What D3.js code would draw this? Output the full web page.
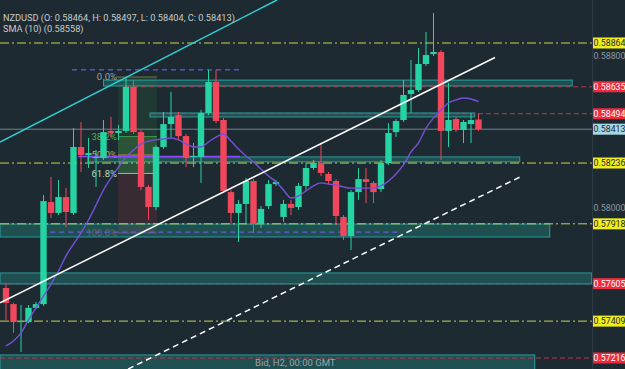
<!DOCTYPE html>
<meta charset="utf-8" />
<style>
  body { margin: 0; background: #1e2a32; overflow: hidden; }
  text { font-family: Roboto, "DejaVu Sans", sans-serif; }
</style>
<body>
<div id="chart"></div>
<script src="https://d3js.org/d3.v7.min.js"></script>
<script>
  // H2 candles, NZDUSD
  var opens = [0.57582,0.57498,0.57404,0.57404,0.57478,0.57498,0.58032,0.57975,0.58058,0.57975,
    0.58320,0.58278,0.58262,0.58262,0.58404,0.58393,0.58404,0.58634,0.58398,0.58111,
    0.58006,0.58320,0.58440,0.58487,0.58377,0.58268,0.58268,0.58498,0.58660,0.58461,
    0.58084,0.57975,0.58022,0.58142,0.57917,0.58011,0.58126,0.57954,0.58022,0.58006,
    0.58116,0.58210,0.58236,0.58179,0.58142,0.57954,0.57854,0.58084,0.58152,0.58132,
    0.58100,0.58236,0.58398,0.58461,0.58597,0.58618,0.58754,0.58806,0.58817,0.58404,
    0.58466,0.58409,0.58440,0.58464];
  var highs = [0.57608,0.57504,0.57493,0.57493,0.57509,0.58069,0.58163,0.58147,0.58105,0.58419,
    0.58451,0.58367,0.58304,0.58461,0.58477,0.58435,0.58686,0.58670,0.58409,0.58121,
    0.58330,0.58503,0.58608,0.58503,0.58388,0.58341,0.58513,0.58723,0.58723,0.58472,
    0.58095,0.58043,0.58158,0.58152,0.58011,0.58147,0.58147,0.58043,0.58043,0.58132,
    0.58236,0.58252,0.58341,0.58189,0.58152,0.57964,0.58095,0.58210,0.58210,0.58142,
    0.58252,0.58445,0.58466,0.58670,0.58775,0.58838,0.58922,0.59021,0.58827,0.58655,
    0.58477,0.58461,0.58498,0.58497];
  var lows = [0.57415,0.57347,0.57247,0.57399,0.57472,0.57488,0.57948,0.57964,0.57901,0.57964,
    0.58189,0.58210,0.58111,0.58252,0.58367,0.58356,0.58393,0.58388,0.58095,0.57938,
    0.57990,0.58309,0.58372,0.58356,0.58215,0.58215,0.58132,0.58487,0.58445,0.58079,
    0.57922,0.57823,0.57922,0.57870,0.57896,0.57996,0.58116,0.57928,0.57964,0.57990,
    0.58095,0.58200,0.58168,0.58126,0.57912,0.57833,0.57781,0.58043,0.58027,0.58027,
    0.58084,0.58226,0.58372,0.58451,0.58498,0.58608,0.58744,0.58796,0.58252,0.58320,
    0.58398,0.58341,0.58341,0.58404];
  var closes = [0.57504,0.57404,0.57409,0.57478,0.57498,0.58037,0.57975,0.58058,0.57980,0.58320,
    0.58278,0.58288,0.58268,0.58398,0.58393,0.58404,0.58634,0.58398,0.58111,0.58006,
    0.58320,0.58440,0.58477,0.58377,0.58262,0.58273,0.58498,0.58660,0.58456,0.58090,
    0.57975,0.58022,0.58142,0.57917,0.57996,0.58126,0.58137,0.58022,0.58001,0.58116,
    0.58210,0.58236,0.58184,0.58142,0.57959,0.57854,0.58084,0.58152,0.58137,0.58084,
    0.58236,0.58393,0.58456,0.58592,0.58618,0.58754,0.58801,0.58817,0.58404,0.58461,
    0.58409,0.58451,0.58461,0.58413];
  // SMA (10)
  var sma10 = [0.57279,0.57305,0.57347,0.57415,0.57478,0.57540,0.57603,0.57671,0.57750,0.57812,
    0.57870,0.57938,0.58016,0.58095,0.58158,0.58215,0.58268,0.58304,0.58336,0.58351,
    0.58357,0.58362,0.58367,0.58357,0.58336,0.58320,0.58320,0.58346,0.58372,0.58388,
    0.58351,0.58309,0.58273,0.58241,0.58205,0.58168,0.58137,0.58095,0.58053,0.58064,
    0.58090,0.58116,0.58132,0.58126,0.58121,0.58111,0.58105,0.58105,0.58105,0.58105,
    0.58116,0.58142,0.58179,0.58226,0.58294,0.58341,0.58419,0.58472,0.58514,0.58550,
    0.58566,0.58576,0.58571,0.58558];

  // price levels on the right scale
  var yellowLevels = [0.58864, 0.58236, 0.57918, 0.57409];
  var redLevels = [0.58635, 0.58494, 0.57605, 0.57216];
  var redStarts = [15.9, 19.2, -0.8, -0.8];
  var gridTicks = [0.588, 0.58];
  var lastPrice = 0.58413;

  // zones: [from, to, top, bottom]
  var zones = [[13, 75.5, 0.58670, 0.58639], [19.2, 62.5, 0.58498, 0.58477],
    [10.9, 68.5, 0.58268, 0.58242], [-0.8, 72.5, 0.57917, 0.57849],
    [-0.8, 78.1, 0.57661, 0.57603], [-0.8, 70.5, 0.57232, 0.5715]];

  // channel: [[idx, price], [idx, price]]
  var upperLine = [[-0.8, 0.58346], [36.13, 0.59089]];
  var midLine = [[-0.8, 0.57505], [65.2, 0.58788]];
  var lowerLine = [[16.27, 0.57158], [68.53, 0.58163]];

  var purpleDashed = [[8.8, 31.2, 0.58723], [5.9, 52.5, 0.57875]];
  var purpleSolid = [[9.6, 31.2, 0.58270]];

  // fib retracement
  var fibHigh = 0.58686, fibLow = 0.5787, fibFrom = 14.93, fibTo = 20.13;
  var fibLevels = [0, 0.382, 0.5, 0.618, 1];
  var fibLabels = ["0.0%", "38.2%", "50.0%", "61.8%", "100.0%"];
  var fibColors = ["#9aa1a8", "#4caf50", "#d9a033", "#b9dcb6", "#8a4652"];

  var W = 625, H = 369, axisX = 592;
  var up = "#26d3a3", down = "#f0475c";

  var x = d3.scaleLinear().domain([0, 63]).range([6, 478.5]);
  var y = d3.scaleLinear().domain([0.57216, 0.58864]).range([358, 43]);

  var svg = d3.select("#chart").append("svg").attr("width", W).attr("height", H);
  svg.append("rect").attr("width", W).attr("height", H).attr("fill", "#1e2a32");

  var plot = svg.append("g");
  plot.append("clipPath").attr("id", "clip").append("rect").attr("width", axisX).attr("height", H);
  plot.attr("clip-path", "url(#clip)");

  function fx(i) { return Math.max(0, Math.min(axisX, x(i))); }

  // fib zones
  var fy = function (l) { return y(fibHigh - (fibHigh - fibLow) * l); };
  plot.append("rect").attr("x", x(fibFrom)).attr("width", x(fibTo) - x(fibFrom))
    .attr("y", fy(0)).attr("height", fy(0.382) - fy(0)).attr("fill", "#2e7d32").attr("opacity", 0.18);
  plot.append("rect").attr("x", x(fibFrom)).attr("width", x(fibTo) - x(fibFrom))
    .attr("y", fy(0.382)).attr("height", fy(0.618) - fy(0.382)).attr("fill", "#43a047").attr("opacity", 0.35);
  plot.append("rect").attr("x", x(fibFrom)).attr("width", x(fibTo) - x(fibFrom))
    .attr("y", fy(0.618)).attr("height", fy(1) - fy(0.618)).attr("fill", "#7a2e3a").attr("opacity", 0.3);
  fibLevels.forEach(function (l, k) {
    plot.append("line").attr("x1", x(fibFrom) - (k == 0 ? 2 : 0)).attr("x2", x(fibTo))
      .attr("y1", fy(l)).attr("y2", fy(l)).attr("stroke", k == 0 ? "#8c8a4a" : fibColors[k])
      .attr("stroke-width", 1).attr("opacity", 0.8);
    plot.append("text").attr("x", x(fibFrom) - 1).attr("y", fy(l)).attr("dy", "0.35em")
      .attr("text-anchor", "end").style("font-size", "9.5px").attr("fill", fibColors[k])
      .text(fibLabels[k]);
  });

  // zones
  zones.forEach(function (z) {
    plot.append("rect").attr("x", fx(z[0])).attr("width", fx(z[1]) - fx(z[0]))
      .attr("y", y(z[2])).attr("height", y(z[3]) - y(z[2]))
      .attr("fill", "#26a69a").attr("fill-opacity", 0.3)
      .attr("stroke", "#2cbcbc").attr("stroke-opacity", 0.75).attr("stroke-width", 1);
  });

  // current price line
  plot.append("line").attr("x1", 0).attr("x2", axisX).attr("y1", y(lastPrice)).attr("y2", y(lastPrice))
    .attr("stroke", "#9cc4d2").attr("opacity", 0.6);

  // horizontal levels
  yellowLevels.forEach(function (v) {
    plot.append("line").attr("x1", 0).attr("x2", axisX).attr("y1", y(v)).attr("y2", y(v))
      .attr("stroke", "#c8d44c").attr("stroke-dasharray", "9,3,2,3");
  });
  redLevels.forEach(function (v, k) {
    plot.append("line").attr("x1", fx(redStarts[k])).attr("x2", axisX).attr("y1", y(v)).attr("y2", y(v))
      .attr("stroke", "#d4394f").attr("stroke-dasharray", "5,3").attr("opacity", 0.85);
  });
  purpleDashed.forEach(function (p) {
    plot.append("line").attr("x1", x(p[0])).attr("x2", x(p[1])).attr("y1", y(p[2])).attr("y2", y(p[2]))
      .attr("stroke", "#6d5ad6").attr("stroke-dasharray", "5,4").attr("stroke-width", 1.2);
  });
  purpleSolid.forEach(function (p) {
    plot.append("line").attr("x1", x(p[0])).attr("x2", x(p[1])).attr("y1", y(p[2])).attr("y2", y(p[2]))
      .attr("stroke", "#8e45ff").attr("stroke-width", 1.5);
  });

  // candles
  var bw = 6.4;
  var candles = plot.append("g");
  closes.forEach(function (c, i) {
    var col = c >= opens[i] ? up : down;
    candles.append("line").attr("x1", x(i)).attr("x2", x(i))
      .attr("y1", y(highs[i])).attr("y2", y(lows[i])).attr("stroke", col).attr("stroke-width", 1);
    var top = y(Math.max(c, opens[i])), bot = y(Math.min(c, opens[i]));
    candles.append("rect").attr("x", x(i) - bw / 2).attr("width", bw)
      .attr("y", top).attr("height", Math.max(1, bot - top)).attr("fill", col);
  });

  // SMA
  var smaLine = d3.line().curve(d3.curveMonotoneX)
    .x(function (d, i) { return x(i); }).y(function (d) { return y(d); });
  plot.append("path").datum(sma10).attr("d", smaLine).attr("fill", "none")
    .attr("stroke", "#7650d8").attr("stroke-width", 1.4);

  // channel lines
  function seg(p, col, dash) {
    plot.append("line").attr("x1", x(p[0][0])).attr("y1", y(p[0][1]))
      .attr("x2", x(p[1][0])).attr("y2", y(p[1][1]))
      .attr("stroke", col).attr("stroke-width", 1.5).attr("stroke-dasharray", dash);
  }
  seg(upperLine, "#2ed3d8", null);
  seg(midLine, "#ffffff", null);
  seg(lowerLine, "#ffffff", "6,4");

  plot.append("text").attr("x", 255).attr("y", 366).style("font-size", "9.5px")
    .attr("fill", "#9aa4ac").text("Bid, H2, 00:00 GMT");

  // price scale
  svg.append("line").attr("x1", axisX + 0.5).attr("x2", axisX + 0.5).attr("y1", 0).attr("y2", H)
    .attr("stroke", "#2d3a44");
  var axis = svg.append("g").attr("transform", "translate(" + axisX + ",0)")
    .call(d3.axisRight(y).tickValues(gridTicks).tickFormat(d3.format(".5f")).tickSize(0));
  axis.select(".domain").remove();
  axis.selectAll("text").attr("x", 1.5).style("font-size", "8.8px")
    .style("font-family", "Roboto, sans-serif").attr("fill", "#8d969e");

  function tag(v, bg, fg) {
    svg.append("rect").attr("x", axisX + 1).attr("y", y(v) - 5.5).attr("width", 40).attr("height", 11)
      .attr("fill", bg);
    svg.append("text").attr("x", axisX + 1.5).attr("y", y(v)).attr("dy", "0.35em")
      .style("font-size", "8.8px").attr("fill", fg).text(d3.format(".5f")(v));
  }
  yellowLevels.forEach(function (v) { tag(v, "#f2ee1c", "#1e2a32"); });
  redLevels.forEach(function (v) { tag(v, "#ee2b3d", "#ffffff"); });
  tag(lastPrice, "#a6d8e4", "#1e2a32");

  // legend
  svg.append("text").attr("x", 3).attr("y", 21).style("font-size", "9.2px").attr("fill", "#c6cacd")
    .text("NZDUSD (O: 0.58464, H: 0.58497, L: 0.58404, C: 0.58413)");
  svg.append("text").attr("x", 3).attr("y", 32).style("font-size", "9.2px").attr("fill", "#c6cacd")
    .text("SMA (10) (0.58558)");
</script>
</body>
